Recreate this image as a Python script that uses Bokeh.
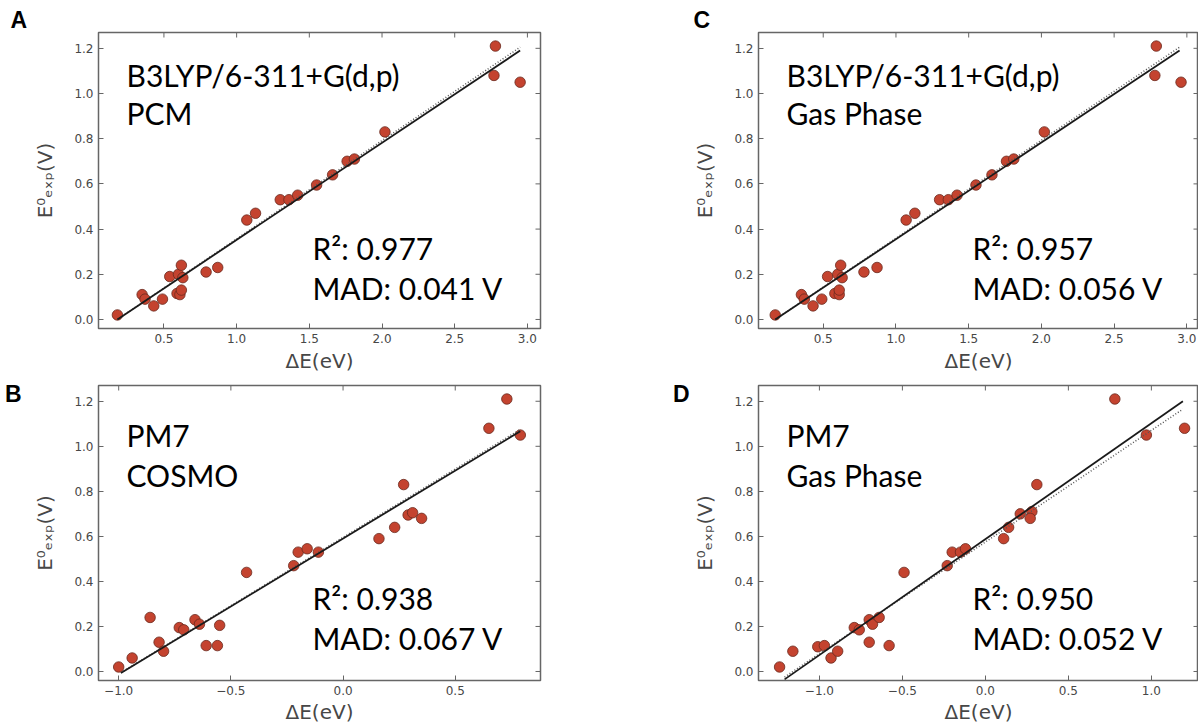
import math
from bokeh.plotting import figure
from bokeh.layouts import row, column
from bokeh.models import LinearAxis, FixedTicker, Label, Range1d
from bokeh.embed import file_html
from bokeh.resources import INLINE

# ---------------- data ----------------
# Panel A: B3LYP/6-311+G(d,p), PCM
a_x = [0.18, 0.35, 0.37, 0.43, 0.49, 0.54, 0.59, 0.61, 0.60, 0.62, 0.62, 0.63, 0.79, 0.87,
       1.07, 1.13, 1.30, 1.36, 1.42, 1.55, 1.66, 1.76, 1.81, 2.02, 2.77, 2.78, 2.95]
a_y = [0.02, 0.11, 0.09, 0.06, 0.09, 0.19, 0.115, 0.11, 0.20, 0.13, 0.24, 0.185, 0.21, 0.23,
       0.44, 0.47, 0.53, 0.53, 0.55, 0.595, 0.64, 0.70, 0.71, 0.83, 1.08, 1.21, 1.05]
a_fit_x = [0.18, 2.95]
a_fit_y = [0.00, 1.19]
a_dot_x = [0.18, 2.95]
a_dot_y = [0.00, 1.205]

# Panel B: PM7, COSMO
b_x = [-1.00, -0.94, -0.86, -0.82, -0.80, -0.73, -0.71, -0.66, -0.64, -0.61, -0.56, -0.55,
       -0.43, -0.22, -0.20, -0.16, -0.11, 0.16, 0.23, 0.27, 0.29, 0.31, 0.35, 0.65, 0.73, 0.79]
b_y = [0.02, 0.06, 0.24, 0.13, 0.09, 0.195, 0.185, 0.23, 0.21, 0.115, 0.115, 0.205,
       0.44, 0.47, 0.53, 0.545, 0.53, 0.59, 0.64, 0.83, 0.695, 0.705, 0.68, 1.08, 1.21, 1.05]
b_fit_x = [-0.99, 0.79]
b_fit_y = [-0.007, 1.067]
b_dot_x = [-0.99, 0.79]
b_dot_y = [-0.005, 1.075]

# Panel C: B3LYP/6-311+G(d,p), gas phase
c_x = [0.17, 0.35, 0.37, 0.43, 0.49, 0.53, 0.58, 0.61, 0.60, 0.61, 0.62, 0.63, 0.78, 0.87,
       1.07, 1.13, 1.30, 1.36, 1.42, 1.55, 1.66, 1.76, 1.81, 2.02, 2.78, 2.79, 2.96]
c_y = [0.02, 0.11, 0.09, 0.06, 0.09, 0.19, 0.115, 0.11, 0.20, 0.13, 0.24, 0.185, 0.21, 0.23,
       0.44, 0.47, 0.53, 0.53, 0.55, 0.595, 0.64, 0.70, 0.71, 0.83, 1.08, 1.21, 1.05]
c_fit_x = [0.17, 2.95]
c_fit_y = [0.00, 1.19]
c_dot_x = [0.17, 2.95]
c_dot_y = [0.00, 1.205]

# Panel D: PM7, gas phase
d_x = [-1.24, -1.16, -1.01, -0.97, -0.93, -0.89, -0.79, -0.76, -0.70, -0.68, -0.70, -0.64,
       -0.58, -0.49, -0.23, -0.20, -0.15, -0.12, 0.11, 0.14, 0.21, 0.28, 0.27, 0.31, 0.78, 0.97, 1.20]
d_y = [0.02, 0.09, 0.11, 0.115, 0.06, 0.09, 0.195, 0.185, 0.23, 0.21, 0.13, 0.24,
       0.115, 0.44, 0.47, 0.53, 0.53, 0.545, 0.59, 0.64, 0.70, 0.71, 0.68, 0.83, 1.21, 1.05, 1.08]
d_fit_x = [-1.21, 1.19]
d_fit_y = [-0.035, 1.20]
d_dot_x = [-1.21, 1.19]
d_dot_y = [-0.025, 1.165]

y_ticks = [0.0, 0.2, 0.4, 0.6, 0.8, 1.0, 1.2]
y_tick_labels = ["0.0", "0.2", "0.4", "0.6", "0.8", "1.0", "1.2"]
x_ticks_dft = [0.5, 1.0, 1.5, 2.0, 2.5, 3.0]
x_tick_labels_dft = ["0.5", "1.0", "1.5", "2.0", "2.5", "3.0"]
x_ticks_b = [-1.0, -0.5, 0.0, 0.5]
x_tick_labels_b = ["\u22121.0", "\u22120.5", "0.0", "0.5"]
x_ticks_d = [-1.0, -0.5, 0.0, 0.5, 1.0]
x_tick_labels_d = ["\u22121.0", "\u22120.5", "0.0", "0.5", "1.0"]

Y_RANGE = (-0.04, 1.27)

# ---------------- style ----------------
FRAME = "#666666"
TICKLBL = "#474747"
DOT_FILL = "#C4432F"
DOT_LINE = "#6a2a1e"
ANN_FONT = "Lato"
ANN_SIZE = "30px"
LETTER_SIZE = "23px"


def panel(xs, ys, fx, fy, dx, dy, xr, xt, xl, letter, letter_mode, letter_pos,
          t1, t2, r2, mad, w, h, bl, br, bt, bb, t1_y, t2_y, r2_y, mad_y, xlab_standoff):
    p = figure(width=w, height=h, x_range=Range1d(*xr), y_range=Range1d(*Y_RANGE),
               output_backend="svg", toolbar_location=None,
               title_location=("above" if letter_mode == "title" else None),
               min_border_left=bl, min_border_right=br, min_border_top=bt, min_border_bottom=bb)
    p.grid.visible = False
    p.background_fill_color = "white"
    p.border_fill_color = "white"
    p.outline_line_color = FRAME
    p.outline_line_width = 1.5

    x_over = {t: l for t, l in zip(xt, xl)}
    y_over = {t: l for t, l in zip(y_ticks, y_tick_labels)}

    for ax, ticks, over in ((p.xaxis[0], xt, x_over), (p.yaxis[0], y_ticks, y_over)):
        ax.ticker = FixedTicker(ticks=ticks)
        ax.major_label_overrides = over
        ax.axis_line_color = None
        ax.major_tick_in = 5
        ax.major_tick_out = 0
        ax.major_tick_line_color = FRAME
        ax.minor_tick_line_color = None
        ax.major_label_text_font = "DejaVu Sans"
        ax.major_label_text_font_size = "12px"
        ax.major_label_text_color = TICKLBL
        ax.axis_label_text_font = "DejaVu Sans"
        ax.axis_label_text_font_size = "20px"
        ax.axis_label_text_font_style = "normal"
        ax.axis_label_text_color = TICKLBL
    p.xaxis[0].major_label_standoff = 5
    p.yaxis[0].major_label_standoff = 5
    p.xaxis[0].axis_label = "\u0394E(eV)"
    p.xaxis[0].axis_label_standoff = xlab_standoff
    p.yaxis[0].axis_label = "E\u2070\u2091\u2093\u209a(V)"
    p.yaxis[0].axis_label_standoff = 14

    # panel letter
    if letter_mode == "title":
        p.title.text = letter
        p.title.align = "left"
        p.title.offset = letter_pos
        p.title.standoff = 0
        p.title.text_font = "Liberation Sans"
        p.title.text_font_size = LETTER_SIZE
        p.title.text_font_style = "bold"
        p.title.text_color = "black"
    else:
        lt, standoff = letter_pos
        lax = LinearAxis(ticker=FixedTicker(ticks=[lt]), major_label_overrides={lt: letter},
                         axis_line_color=None, major_tick_line_color=None, minor_tick_line_color=None,
                         major_tick_in=0, major_tick_out=0, major_label_standoff=standoff,
                         major_label_text_font="Liberation Sans", major_label_text_font_size=LETTER_SIZE,
                         major_label_text_font_style="bold", major_label_text_color="black")
        p.add_layout(lax, "left")

    # inward ticks on the top and right spines
    p.ray(x=xt, y=[Y_RANGE[1]] * len(xt), length=5, length_units="screen", angle=-math.pi / 2,
          line_color=FRAME, line_width=1)
    p.ray(x=[xr[1]] * len(y_ticks), y=y_ticks, length=5, length_units="screen", angle=math.pi,
          line_color=FRAME, line_width=1)

    p.scatter(xs, ys, size=10.5, fill_color=DOT_FILL, line_color=DOT_LINE, line_width=0.8)
    p.line(dx, dy, line_color="#555555", line_width=1.5, line_dash="1 2")
    p.line(fx, fy, line_color="#1a1a1a", line_width=1.8)

    def lab(txt, x, y):
        p.add_layout(Label(x=x, y=y, x_units="screen", y_units="screen", text=txt,
                           text_font=ANN_FONT, text_font_size=ANN_SIZE,
                           text_align="left", text_baseline="alphabetic", text_color="black"))

    lab(t1, 28, t1_y)
    lab(t2, 28, t2_y)
    lab(r2, 214, r2_y)
    lab(mad, 214, mad_y)
    return p


pA = panel(a_x, a_y, a_fit_x, a_fit_y, a_dot_x, a_dot_y, (0.05, 3.09), x_ticks_dft, x_tick_labels_dft,
           "A", "title", -88, "B3LYP/6-311+G(d,p)", "PCM", "R\u00b2: 0.977", "MAD: 0.041 V",
           660, 378, 98, 120, 32, 50, 254, 216, 81, 41, 3)
pC = panel(c_x, c_y, c_fit_x, c_fit_y, c_dot_x, c_dot_y, (0.055, 3.08), x_ticks_dft, x_tick_labels_dft,
           "C", "title", -65, "B3LYP/6-311+G(d,p)", "Gas Phase", "R\u00b2: 0.957", "MAD: 0.056 V",
           538, 378, 98, 0, 32, 50, 254, 216, 81, 41, 3)
pB = panel(b_x, b_y, b_fit_x, b_fit_y, b_dot_x, b_dot_y, (-1.09, 0.88), x_ticks_b, x_tick_labels_b,
           "B", "axis", (1.255, 9), "PM7", "COSMO", "R\u00b2: 0.938", "MAD: 0.067 V",
           660, 348, 98, 120, 7, 45, 246, 206, 83, 43, 2)
pD = panel(d_x, d_y, d_fit_x, d_fit_y, d_dot_x, d_dot_y, (-1.367, 1.284), x_ticks_d, x_tick_labels_d,
           "D", "axis", (1.255, 1), "PM7", "Gas Phase", "R\u00b2: 0.950", "MAD: 0.052 V",
           538, 348, 98, 0, 7, 45, 246, 206, 83, 43, 2)

layout = column(row(pA, pC), row(pB, pD))
open("out.html", "w").write(file_html(layout, INLINE))
